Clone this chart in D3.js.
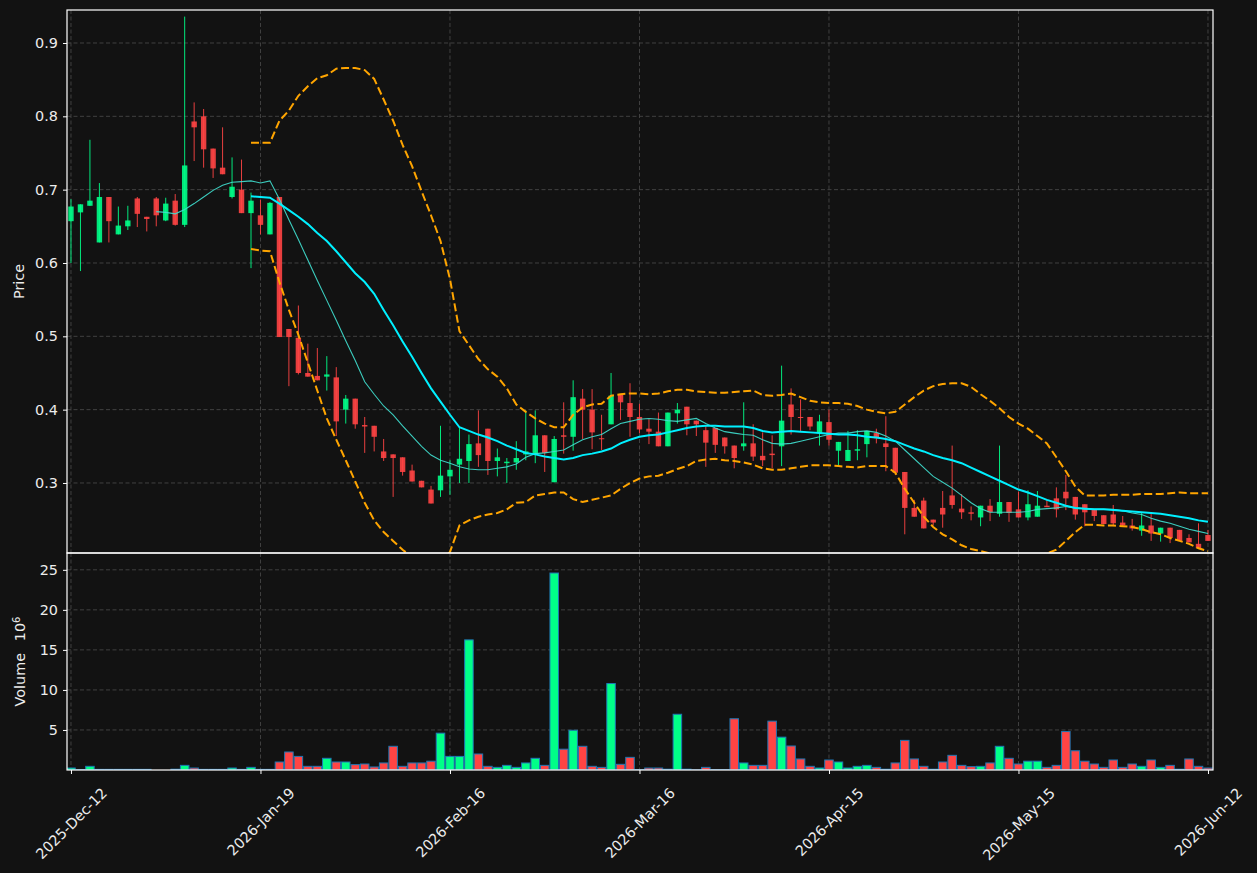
<!DOCTYPE html>
<html>
<head>
<meta charset="utf-8">
<script src="https://cdn.jsdelivr.net/npm/d3@7"></script>
<style>
  body { margin: 0; background: #121212; }
  svg text { font-family: 'DejaVu Sans', sans-serif; fill: #ececec; }
</style>
</head>
<body>
<div id="chart"></div>
<script>
// x axis ticks (candle index -> date label)
var tickIdx    = [0, 20, 40, 60, 80, 100, 120];
var tickLabels = ['2025-Dec-12', '2026-Jan-19', '2026-Feb-16', '2026-Mar-16', '2026-Apr-15', '2026-May-15', '2026-Jun-12'];

var priceTicks  = [0.3, 0.4, 0.5, 0.6, 0.7, 0.8, 0.9];
var volumeTicks = [5, 10, 15, 20, 25];

// OHLC, one per trading day
var opens = [0.657,0.669,0.678,0.628,0.690,0.639,0.650,0.688,0.663,0.688,0.658,0.685,0.652,0.793,0.800,0.756,0.730,0.690,0.700,0.668,
  0.665,0.639,0.690,0.510,0.498,0.450,0.446,0.445,0.444,0.400,0.415,0.379,0.378,0.343,0.339,0.335,0.317,0.303,0.291,0.290,
  0.309,0.325,0.330,0.354,0.374,0.330,0.327,0.328,0.339,0.339,0.365,0.301,0.365,0.363,0.415,0.400,0.361,0.380,0.420,0.409,
  0.390,0.374,0.370,0.350,0.395,0.404,0.385,0.372,0.375,0.362,0.351,0.350,0.354,0.337,0.340,0.350,0.407,0.390,0.390,0.368,
  0.383,0.344,0.330,0.344,0.353,0.368,0.354,0.348,0.315,0.266,0.276,0.250,0.266,0.283,0.265,0.260,0.253,0.269,0.258,0.274,
  0.264,0.253,0.254,0.269,0.279,0.288,0.281,0.271,0.264,0.256,0.257,0.246,0.242,0.235,0.242,0.231,0.239,0.236,0.225,0.217,0.229];
var highs = [0.687,0.680,0.768,0.709,0.690,0.677,0.678,0.690,0.663,0.690,0.689,0.694,0.936,0.819,0.810,0.756,0.785,0.744,0.741,0.696,
  0.686,0.683,0.690,0.510,0.542,0.490,0.484,0.473,0.458,0.420,0.415,0.390,0.378,0.360,0.339,0.335,0.325,0.303,0.296,0.378,
  0.331,0.377,0.366,0.399,0.374,0.347,0.334,0.357,0.399,0.399,0.365,0.364,0.410,0.440,0.428,0.428,0.393,0.450,0.420,0.436,
  0.408,0.387,0.396,0.396,0.409,0.404,0.385,0.378,0.375,0.362,0.351,0.410,0.380,0.369,0.365,0.460,0.429,0.414,0.390,0.393,
  0.400,0.356,0.371,0.372,0.371,0.374,0.391,0.348,0.315,0.277,0.280,0.250,0.289,0.351,0.285,0.268,0.269,0.278,0.351,0.274,
  0.288,0.290,0.289,0.278,0.294,0.311,0.281,0.271,0.264,0.256,0.270,0.255,0.251,0.260,0.260,0.239,0.239,0.236,0.230,0.245,0.236];
var lows = [0.600,0.589,0.678,0.628,0.628,0.639,0.645,0.649,0.643,0.650,0.657,0.651,0.649,0.739,0.730,0.716,0.721,0.688,0.668,0.593,
  0.639,0.639,0.499,0.432,0.448,0.445,0.440,0.426,0.364,0.381,0.374,0.341,0.343,0.330,0.281,0.310,0.302,0.294,0.272,0.281,
  0.284,0.300,0.300,0.322,0.311,0.309,0.300,0.318,0.331,0.327,0.315,0.301,0.340,0.344,0.360,0.346,0.345,0.380,0.386,0.363,
  0.368,0.353,0.350,0.350,0.381,0.365,0.364,0.322,0.341,0.340,0.320,0.344,0.330,0.323,0.320,0.323,0.366,0.370,0.372,0.351,
  0.351,0.324,0.330,0.331,0.335,0.354,0.316,0.311,0.230,0.254,0.238,0.242,0.239,0.265,0.251,0.249,0.241,0.248,0.254,0.247,
  0.253,0.249,0.254,0.267,0.253,0.263,0.250,0.241,0.248,0.244,0.241,0.240,0.235,0.228,0.221,0.220,0.218,0.221,0.219,0.210,0.221];
var closes = [0.677,0.680,0.685,0.690,0.657,0.651,0.658,0.667,0.660,0.665,0.681,0.652,0.733,0.785,0.755,0.729,0.721,0.704,0.668,0.685,
  0.652,0.682,0.499,0.499,0.450,0.445,0.440,0.448,0.384,0.415,0.380,0.377,0.363,0.334,0.334,0.315,0.302,0.294,0.272,0.310,
  0.318,0.333,0.353,0.338,0.330,0.335,0.329,0.334,0.343,0.365,0.341,0.360,0.363,0.417,0.400,0.369,0.360,0.419,0.410,0.390,
  0.373,0.370,0.350,0.396,0.400,0.380,0.380,0.355,0.352,0.350,0.334,0.354,0.336,0.331,0.338,0.385,0.390,0.389,0.377,0.384,
  0.359,0.356,0.345,0.346,0.371,0.361,0.349,0.314,0.266,0.254,0.238,0.246,0.257,0.270,0.260,0.258,0.269,0.260,0.274,0.259,
  0.253,0.271,0.269,0.267,0.264,0.279,0.257,0.260,0.255,0.244,0.245,0.242,0.238,0.242,0.231,0.239,0.225,0.221,0.219,0.211,0.221];

// volume, millions
var volumes = [0.25,0.05,0.46,0.08,0.08,0.08,0.08,0.08,0.08,0,0,0.1,0.58,0.25,0.08,0.08,0.08,0.25,0.08,0.33,
  0.08,0.08,1.0,2.25,1.7,0.46,0.46,1.46,1.0,1.0,0.67,0.75,0.38,0.88,2.96,0.46,0.88,0.88,1.1,4.6,
  1.7,1.7,16.25,2.0,0.46,0.33,0.58,0.33,0.88,1.46,0.58,24.6,2.6,4.96,2.96,0.46,0.33,10.8,0.71,1.58,
  0.05,0.25,0.25,0.1,6.96,0.1,0.02,0.33,0.05,0.05,6.4,0.88,0.58,0.58,6.1,4.1,3.0,1.38,0.46,0.25,
  1.25,1.0,0.25,0.46,0.58,0.33,0.1,0.88,3.7,1.38,0.46,0.1,1.0,1.83,0.58,0.42,0.46,0.88,2.96,1.46,
  0.75,1.1,1.1,0.33,0.58,4.8,2.4,1.1,0.75,0.33,1.25,0.33,0.75,0.46,1.25,0.33,0.58,0.1,1.38,0.46,0.25];

// moving averages (10 and 20) and bollinger bands
var ma10Start = 9;
var ma10 = [0.670,0.669,0.667,0.673,0.681,0.690,0.699,0.706,0.710,0.711,0.712,0.709,0.712,0.687,0.659,0.632,0.604,0.576,0.549,0.522,
  0.494,0.467,0.438,0.421,0.405,0.393,0.378,0.364,0.350,0.338,0.331,0.327,0.322,0.319,0.318,0.318,0.320,0.322,0.326,0.335,
  0.340,0.341,0.343,0.345,0.352,0.359,0.363,0.366,0.374,0.381,0.384,0.387,0.388,0.387,0.385,0.384,0.386,0.388,0.381,0.375,
  0.370,0.368,0.366,0.365,0.359,0.354,0.353,0.354,0.357,0.360,0.363,0.366,0.368,0.368,0.370,0.371,0.369,0.364,0.357,0.345,
  0.333,0.321,0.309,0.301,0.293,0.283,0.273,0.265,0.260,0.260,0.260,0.260,0.261,0.264,0.265,0.266,0.268,0.266,0.265,0.264,
  0.264,0.264,0.262,0.259,0.257,0.252,0.248,0.245,0.241,0.237,0.234,0.231];

var bandStart = 19;
var ma20 = [0.691,0.690,0.689,0.681,0.672,0.663,0.653,0.641,0.630,0.616,0.601,0.586,0.574,0.558,0.536,0.515,0.493,0.472,0.450,0.429,
  0.411,0.393,0.376,0.371,0.366,0.362,0.357,0.351,0.346,0.341,0.339,0.336,0.334,0.332,0.334,0.338,0.340,0.343,0.347,0.354,
  0.359,0.363,0.365,0.366,0.369,0.372,0.375,0.377,0.378,0.378,0.377,0.377,0.377,0.375,0.371,0.369,0.370,0.371,0.370,0.369,
  0.368,0.367,0.366,0.366,0.365,0.363,0.362,0.360,0.357,0.352,0.347,0.343,0.338,0.334,0.331,0.327,0.321,0.315,0.309,0.303,
  0.297,0.291,0.287,0.282,0.277,0.273,0.269,0.266,0.265,0.264,0.264,0.263,0.262,0.261,0.260,0.259,0.258,0.256,0.254,0.252,
  0.249,0.247];
var bandUpper = [0.764,0.764,0.764,0.794,0.808,0.828,0.841,0.852,0.856,0.865,0.866,0.866,0.863,0.851,0.823,0.794,0.761,0.732,0.698,0.665,
  0.630,0.578,0.507,0.488,0.469,0.455,0.445,0.429,0.407,0.397,0.388,0.381,0.376,0.376,0.393,0.403,0.407,0.408,0.419,0.421,
  0.422,0.422,0.421,0.422,0.425,0.427,0.427,0.425,0.424,0.423,0.423,0.424,0.425,0.426,0.420,0.419,0.420,0.422,0.417,0.412,
  0.410,0.409,0.409,0.408,0.405,0.400,0.397,0.395,0.397,0.407,0.417,0.426,0.432,0.435,0.436,0.436,0.431,0.421,0.412,0.402,
  0.390,0.381,0.374,0.364,0.354,0.335,0.316,0.295,0.283,0.283,0.283,0.284,0.284,0.284,0.285,0.285,0.285,0.286,0.287,0.286,
  0.286,0.286];
var bandLower = [0.619,0.617,0.616,0.574,0.536,0.502,0.464,0.426,0.388,0.359,0.331,0.302,0.273,0.249,0.233,0.221,0.209,0.199,0.192,0.190,
  0.193,0.206,0.242,0.249,0.254,0.257,0.259,0.264,0.273,0.274,0.283,0.285,0.287,0.287,0.278,0.274,0.277,0.280,0.283,0.292,
  0.300,0.306,0.309,0.310,0.314,0.319,0.323,0.330,0.332,0.333,0.331,0.330,0.328,0.325,0.320,0.318,0.318,0.320,0.322,0.324,
  0.324,0.324,0.323,0.322,0.321,0.323,0.323,0.323,0.314,0.292,0.273,0.254,0.240,0.230,0.223,0.215,0.210,0.207,0.204,0.200,
  0.198,0.198,0.199,0.201,0.204,0.209,0.221,0.233,0.243,0.243,0.242,0.242,0.241,0.240,0.237,0.233,0.230,0.225,0.221,0.217,
  0.211,0.207];

var W = 1257, H = 873;
var left = 67, right = 1213;
var priceTop = 10, priceBottom = 553, volBottom = 770;

var upColor = '#00ff88', downColor = '#ff4444';
var gridColor = '#464646';
var fontSize = '14.4px';

var svg = d3.select('#chart').append('svg')
  .attr('width', W)
  .attr('height', H)
  .style('display', 'block');

svg.append('rect').attr('width', W).attr('height', H).attr('fill', '#121212');

var x = d3.scaleLinear().domain([-0.42, 120.53]).range([left, right]);
var yP = d3.scaleLinear().domain([0.2045, 0.945]).range([priceBottom, priceTop]);
var yV = d3.scaleLinear().domain([0, 27.1]).range([volBottom, priceBottom]);

var step = x(1) - x(0);

var defs = svg.append('defs');
defs.append('clipPath').attr('id', 'clipP').append('rect')
  .attr('x', left).attr('y', priceTop).attr('width', right - left).attr('height', priceBottom - priceTop);
defs.append('clipPath').attr('id', 'clipV').append('rect')
  .attr('x', left).attr('y', priceBottom).attr('width', right - left).attr('height', volBottom - priceBottom);

// Grid
function grid(g, yScale, yTicks, y0, y1) {
  g.selectAll('.hg').data(yTicks).enter().append('line')
    .attr('x1', left).attr('x2', right)
    .attr('y1', function(d) { return yScale(d); })
    .attr('y2', function(d) { return yScale(d); });
  g.selectAll('.vg').data(tickIdx).enter().append('line')
    .attr('x1', function(d) { return x(d); })
    .attr('x2', function(d) { return x(d); })
    .attr('y1', y0).attr('y2', y1);
  g.selectAll('line')
    .attr('stroke', gridColor)
    .attr('stroke-width', 0.9)
    .attr('stroke-dasharray', '4,2.5');
}
grid(svg.append('g'), yP, priceTicks, priceTop, priceBottom);
grid(svg.append('g'), yV, volumeTicks, priceBottom, volBottom);

var data = opens.map(function(o, i) {
  return { i: i, o: o, h: highs[i], l: lows[i], c: closes[i], v: volumes[i], up: closes[i] >= o };
});

// Volume bars
var vol = svg.append('g').attr('clip-path', 'url(#clipV)');
vol.selectAll('.vbar')
  .data(data.filter(function(d) { return d.v > 0; }))
.enter().append('rect')
  .attr('class', 'vbar')
  .attr('x', function(d) { return x(d.i) - step * 0.45; })
  .attr('y', function(d) { return yV(d.v); })
  .attr('width', step * 0.9)
  .attr('height', function(d) { return yV(0) - yV(d.v); })
  .attr('fill', function(d) { return d.up ? upColor : downColor; })
  .attr('stroke', '#1f77b4')
  .attr('stroke-width', 1);

// Candles
var price = svg.append('g').attr('clip-path', 'url(#clipP)');
var bodyW = 5.4;

price.selectAll('.wick')
  .data(data)
.enter().append('line')
  .attr('class', 'wick')
  .attr('x1', function(d) { return x(d.i); })
  .attr('x2', function(d) { return x(d.i); })
  .attr('y1', function(d) { return yP(d.h); })
  .attr('y2', function(d) { return yP(d.l); })
  .attr('stroke', function(d) { return d.up ? upColor : downColor; })
  .attr('stroke-opacity', 0.9)
  .attr('stroke-width', 1);

price.selectAll('.body')
  .data(data)
.enter().append('rect')
  .attr('class', 'body')
  .attr('x', function(d) { return x(d.i) - bodyW / 2; })
  .attr('y', function(d) { return yP(Math.max(d.o, d.c)); })
  .attr('width', bodyW)
  .attr('height', function(d) { return Math.max(1, Math.abs(yP(d.o) - yP(d.c))); })
  .attr('fill', function(d) { return d.up ? upColor : downColor; })
  .attr('fill-opacity', 0.9);

// Indicator lines
function series(start, values) {
  return values.map(function(v, k) { return { i: start + k, v: v }; });
}
var line = d3.line()
  .x(function(d) { return x(d.i); })
  .y(function(d) { return yP(d.v); });

[bandUpper, bandLower].forEach(function(band) {
  price.append('path').datum(series(bandStart, band))
    .attr('d', line).attr('fill', 'none')
    .attr('stroke', '#ffa500').attr('stroke-width', 2).attr('stroke-dasharray', '8,3.5');
});
price.append('path').datum(series(ma10Start, ma10))
  .attr('d', line).attr('fill', 'none')
  .attr('stroke', '#40e0d0').attr('stroke-opacity', 0.9).attr('stroke-width', 1.1);
price.append('path').datum(series(bandStart, ma20))
  .attr('d', line).attr('fill', 'none')
  .attr('stroke', '#00f0ff').attr('stroke-width', 2);

// Axes
var axP = svg.append('g')
  .attr('transform', 'translate(' + left + ',0)')
  .call(d3.axisLeft(yP).tickValues(priceTicks).tickFormat(d3.format('.1f')).tickSize(4).tickPadding(5));
var axV = svg.append('g')
  .attr('transform', 'translate(' + left + ',0)')
  .call(d3.axisLeft(yV).tickValues(volumeTicks).tickFormat(d3.format('d')).tickSize(4).tickPadding(5));
var axX = svg.append('g')
  .attr('transform', 'translate(0,' + volBottom + ')')
  .call(d3.axisBottom(x).tickValues(tickIdx)
    .tickFormat(function(d, k) { return tickLabels[k]; }).tickSize(4));

[axP, axV, axX].forEach(function(a) {
  a.select('.domain').remove();
  a.selectAll('line').attr('stroke', '#ffffff');
  a.selectAll('text').attr('fill', '#ececec').style('font-size', fontSize);
});

axX.selectAll('text')
  .attr('y', 0)
  .attr('dy', null)
  .attr('text-anchor', 'middle')
  .attr('dominant-baseline', 'central')
  .attr('transform', function() {
    var L = this.getComputedTextLength();
    var cy = 16 + (L + 13) * 0.7071 / 2;
    return 'translate(0,' + cy + ') rotate(-45)';
  });

// Panel frames
svg.append('rect')
  .attr('x', left).attr('y', priceTop)
  .attr('width', right - left).attr('height', priceBottom - priceTop)
  .attr('fill', 'none').attr('stroke', '#ffffff').attr('stroke-width', 1.2);
svg.append('rect')
  .attr('x', left).attr('y', priceBottom)
  .attr('width', right - left).attr('height', volBottom - priceBottom)
  .attr('fill', 'none').attr('stroke', '#ffffff').attr('stroke-width', 1.2);

// Axis labels
svg.append('text')
  .attr('transform', 'translate(18.5,' + ((priceTop + priceBottom) / 2) + ') rotate(-90)')
  .attr('text-anchor', 'middle')
  .attr('dominant-baseline', 'central')
  .style('font-size', fontSize)
  .text('Price');

var vl = svg.append('text')
  .attr('transform', 'translate(20,' + ((priceBottom + volBottom) / 2) + ') rotate(-90)')
  .attr('text-anchor', 'middle')
  .attr('dominant-baseline', 'central')
  .style('font-size', fontSize);
vl.append('tspan').text('Volume\u2002 10');
vl.append('tspan').attr('dy', '-0.45em').style('font-size', '10px').text('6');
</script>
</body>
</html>
